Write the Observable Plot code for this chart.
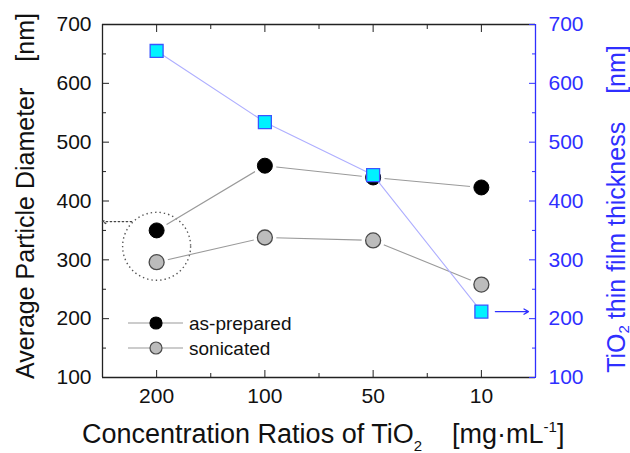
<!DOCTYPE html>
<html><head><meta charset="utf-8">
<script src="https://cdn.jsdelivr.net/npm/d3@7"></script>
<script src="https://cdn.jsdelivr.net/npm/@observablehq/plot@0.6"></script>
<style>
body{margin:0;background:#fff}
svg{font-family:"Liberation Sans",Arial,sans-serif}
</style>
</head><body><div id="chart"></div>
<script>
// ---- data ----
const categories = ["200", "100", "50", "10"];
const asPrepared = [350, 460, 440, 423];
const sonicated = [296, 338, 333, 258];
const thickness = [655, 534, 444, 212];
const yTicks = [100, 200, 300, 400, 500, 600, 700];
const yMinorTicks = [150, 250, 350, 450, 550, 650];
const seriesNames = ["as-prepared", "sonicated"];
const circledIndex = 0;          // circled category (200)
const circleArrowValue = 365;     // dotted arrow to left axis
const thicknessArrowIndex = 3;    // arrow to right axis (10)

// ---- tables ----
const idx = categories.map((c, i) => i);
const apRows = idx.map(i => ({i, v: asPrepared[i]}));
const soRows = idx.map(i => ({i, v: sonicated[i]}));
const thRows = idx.map(i => ({i, v: thickness[i]}));
const circled = [{i: circledIndex, v: (asPrepared[circledIndex] + sonicated[circledIndex]) / 2}];
const minorX = idx.slice(1).map(i => i - 0.5);

const BLUE = "#2f2fff";
const F = 21;

const plot = Plot.plot({
  width: 630, height: 453,
  marginLeft: 102, marginRight: 95, marginTop: 24, marginBottom: 76,
  x: {domain: [-0.5, categories.length - 0.5], label: null},
  y: {domain: [100, 700], label: null},
  style: {fontFamily: '"Liberation Sans", Arial, sans-serif', background: "white"},
  marks: [
    // frame
    Plot.ruleY([100, 700], {stroke: "#222", strokeWidth: 1.3}),
    Plot.ruleX([-0.5], {stroke: "#222", strokeWidth: 1.3}),
    Plot.ruleX([categories.length - 0.5], {stroke: BLUE, strokeWidth: 1.3}),
    // axes
    Plot.axisY(yTicks, {anchor: "left", label: null, tickSize: -7, tickPadding: 18, fontSize: F, stroke: "#222", fill: "#111"}),
    Plot.axisY(yMinorTicks, {anchor: "left", label: null, tickSize: -4, stroke: "#222", fill: "none"}),
    Plot.axisY(yTicks, {anchor: "right", label: null, tickSize: -7, tickPadding: 20, fontSize: F, stroke: BLUE, fill: BLUE}),
    Plot.axisY(yMinorTicks, {anchor: "right", label: null, tickSize: -4, stroke: BLUE, fill: "none"}),
    Plot.axisX(idx, {anchor: "bottom", label: null, tickSize: -7, tickPadding: 18, fontSize: F, stroke: "#222", fill: "#111", tickFormat: i => categories[i]}),
    Plot.axisX(minorX, {anchor: "bottom", label: null, tickSize: -4, stroke: "#222", fill: "none"}),
    Plot.axisX(idx, {anchor: "top", label: null, tickSize: -7, stroke: "#222", fill: "none"}),
    Plot.axisX(minorX, {anchor: "top", label: null, tickSize: -4, stroke: "#222", fill: "none"}),
    // annotation: dotted circle + dotted arrow
    Plot.dot(circled, {x: "i", y: "v", r: 34, fill: "none", stroke: "#555", strokeWidth: 1.4, strokeDasharray: "1.4 3"}),
    Plot.arrow(circled, {x1: "i", y1: () => circleArrowValue, x2: () => -0.5, y2: () => circleArrowValue,
      insetStart: 25, headLength: 4, stroke: "#444", strokeWidth: 1.4, strokeDasharray: "1.4 2.6"}),
    // particle diameter series
    Plot.line(apRows, {x: "i", y: "v", stroke: "#9a9a9a", strokeWidth: 1.1}),
    Plot.line(soRows, {x: "i", y: "v", stroke: "#9a9a9a", strokeWidth: 1.1}),
    Plot.dot(apRows.concat(soRows), {x: "i", y: "v", r: 11.5, fill: "white"}),
    Plot.dot(apRows, {x: "i", y: "v", r: 7.5, fill: "#000", stroke: "#000", strokeWidth: 1}),
    Plot.dot(soRows, {x: "i", y: "v", r: 7.5, fill: "#bcbcbc", stroke: "#4a4a4a", strokeWidth: 1.3}),
    // thickness series
    Plot.line(thRows, {x: "i", y: "v", stroke: "#aeaeff", strokeWidth: 1.1}),
    Plot.dot(thRows, {x: "i", y: "v", symbol: "square", r: 7.3, fill: "#00f2ff", stroke: "#3a55ff", strokeWidth: 1.3}),
    Plot.arrow(thRows.filter(d => d.i === thicknessArrowIndex), {x1: "i", y1: "v", x2: () => categories.length - 0.5, y2: "v",
      insetStart: 14, insetEnd: 7, headLength: 6, stroke: BLUE, strokeWidth: 1.3})
  ]
});

document.getElementById("chart").appendChild(plot);

// ---- titles and legend ----
const svg = d3.select(plot);
const ff = '"Liberation Sans", Arial, sans-serif';

// left title
const lt = svg.append("text")
  .attr("transform", "translate(25,196) rotate(-90)")
  .attr("text-anchor", "middle").attr("dominant-baseline", "central")
  .attr("font-size", 25).attr("fill", "#111").attr("font-family", ff);
lt.append("tspan").text("Average Particle Diameter");
lt.append("tspan").attr("dx", 26).text("[nm]");

// right title
const rt = svg.append("text")
  .attr("transform", "translate(616,209) rotate(-90)")
  .attr("text-anchor", "middle").attr("dominant-baseline", "central")
  .attr("font-size", 25).attr("fill", BLUE).attr("font-family", ff);
rt.append("tspan").text("TiO");
rt.append("tspan").attr("font-size", 15).attr("dy", 7).text("2");
rt.append("tspan").attr("dy", -7).attr("dx", 6).text("thin film thickness");
rt.append("tspan").attr("dx", 28).text("[nm]");

// x title
const xt = svg.append("text")
  .attr("x", 82).attr("y", 443).attr("text-anchor", "start")
  .attr("font-size", 27).attr("fill", "#111").attr("font-family", ff);
xt.append("tspan").text("Concentration Ratios of TiO");
xt.append("tspan").attr("font-size", 15).attr("dy", 8).text("2");
xt.append("tspan").attr("dy", -8).attr("dx", 30).text("[mg·mL");
xt.append("tspan").attr("font-size", 15).attr("dy", -11).text("-1");
xt.append("tspan").attr("dy", 11).text("]");

// legend
const lg = svg.append("g").attr("font-family", ff).attr("text-anchor", "start");
const legendStyles = [
  {fill: "#000", stroke: "#000"},
  {fill: "#bcbcbc", stroke: "#4a4a4a"}
];
seriesNames.forEach((name, k) => {
  const y = 323 + k * 25;
  lg.append("line").attr("x1", 128).attr("x2", 183).attr("y1", y).attr("y2", y)
    .attr("stroke", "#9a9a9a").attr("stroke-width", 1.1);
  lg.append("circle").attr("cx", 156).attr("cy", y).attr("r", 6)
    .attr("fill", legendStyles[k].fill).attr("stroke", legendStyles[k].stroke).attr("stroke-width", 1.2);
  lg.append("text").attr("x", 189).attr("y", y).attr("dominant-baseline", "central")
    .attr("text-anchor", "start")
    .attr("font-size", 19).attr("fill", "#111").text(name);
});
</script>
</body></html>
